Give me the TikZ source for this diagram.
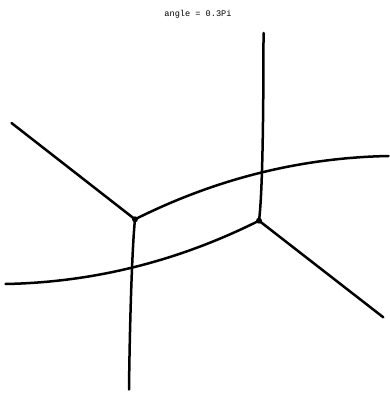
\documentclass[tikz,border=0pt]{standalone}
\usepackage{fontspec}
\newfontfamily\monofont{Liberation Mono}
\begin{document}
\begin{tikzpicture}[x=1pt,y=-1pt,
  edge/.style={line width=2.5pt,line cap=round,line join=round},
  vert/.style={circle,fill=black,inner sep=0pt,minimum size=6pt},
  titletext/.style={font=\monofont\fontsize{8.6}{10}\selectfont,inner sep=0pt}]
\useasboundingbox (0,0) rectangle (389,409);
\node[titletext] (title) at (198,14) {angle = 0.3Pi};
% vertices
\node[vert] (A) at (135,219.3) {};
\node[vert] (B) at (259,220.7) {};
% free ends
\coordinate (UL) at (11.5,123);
\coordinate (LR) at (383.3,317.3);
\coordinate (TE) at (263.5,33);
\coordinate (BE) at (129,389.5);
\coordinate (RE) at (388.5,156);
\coordinate (LE) at (5.5,284);
% straight rays
\draw[edge] (A.center) -- (UL);
\draw[edge] (B.center) -- (LR);
% upper curve
\draw[edge] (A.center) .. controls (215.9,178.8) and (300.4,157.7) .. (RE);
% lower curve
\draw[edge] (B.center) .. controls (178.1,261.2) and (93.6,282.3) .. (LE);
% top vertical
\draw[edge] (B.center) .. controls (262,197.6) and (263.5,135) .. (TE);
% bottom vertical
\draw[edge] (A.center) .. controls (132.2,246) and (129.8,320) .. (BE);
\end{tikzpicture}
\end{document}
